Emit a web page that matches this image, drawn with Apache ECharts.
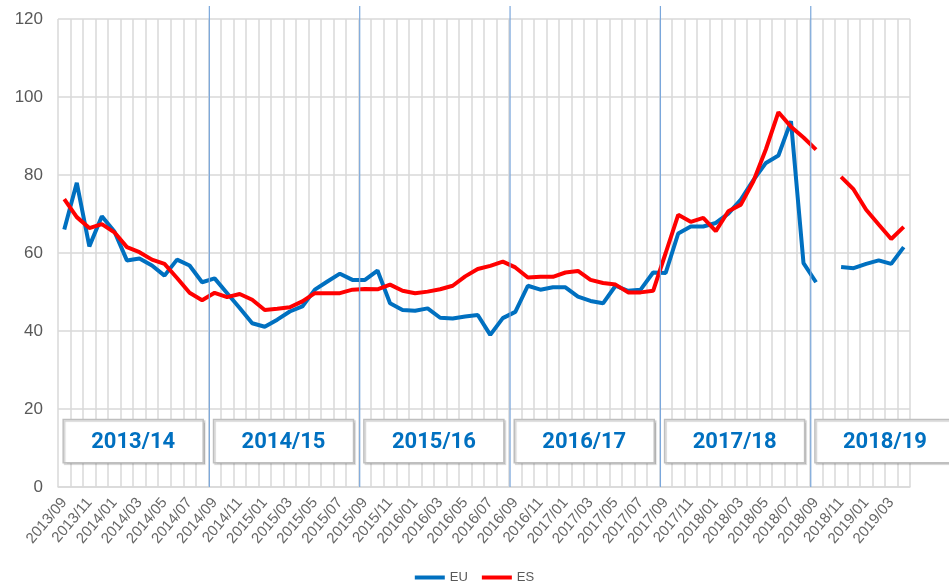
<!DOCTYPE html>
<html>
<head>
<meta charset="utf-8">
<script src="https://cdn.jsdelivr.net/npm/echarts@6/dist/echarts.min.js"></script>
<style>
  html, body { margin: 0; padding: 0; background: #fff; }
  #main { width: 949px; height: 583px; }
</style>
</head>
<body>
<div id="main"></div>
<script>
// months 2013/09 .. 2019/04
var months = [
  '2013/09','2013/10','2013/11','2013/12',
  '2014/01','2014/02','2014/03','2014/04','2014/05','2014/06','2014/07','2014/08','2014/09','2014/10','2014/11','2014/12',
  '2015/01','2015/02','2015/03','2015/04','2015/05','2015/06','2015/07','2015/08','2015/09','2015/10','2015/11','2015/12',
  '2016/01','2016/02','2016/03','2016/04','2016/05','2016/06','2016/07','2016/08','2016/09','2016/10','2016/11','2016/12',
  '2017/01','2017/02','2017/03','2017/04','2017/05','2017/06','2017/07','2017/08','2017/09','2017/10','2017/11','2017/12',
  '2018/01','2018/02','2018/03','2018/04','2018/05','2018/06','2018/07','2018/08','2018/09','2018/10','2018/11','2018/12',
  '2019/01','2019/02','2019/03','2019/04'
];

var euValues = [
  66.0, 78.0, 61.7, 69.4, 65.5, 58.1, 58.6, 56.8, 54.2, 58.3, 56.8, 52.5,
  53.5, 49.7, 45.9, 42.0, 41.1, 42.9, 45.0, 46.3, 50.6, 52.7, 54.7, 53.1,
  53.1, 55.5, 47.1, 45.4, 45.2, 45.8, 43.4, 43.2, 43.7, 44.1, 39.0, 43.3,
  44.9, 51.6, 50.6, 51.2, 51.2, 48.8, 47.7, 47.1, 51.6, 50.3, 50.6, 55.0,
  54.9, 65.0, 66.8, 66.8, 67.7, 70.1, 73.7, 78.7, 83.1, 85.0, 93.8, 57.4,
  52.5, null, 56.4, 56.1, 57.2, 58.1, 57.2, 61.5
];

var esValues = [
  73.8, 69.2, 66.4, 67.4, 65.3, 61.5, 60.2, 58.3, 57.2, 53.6, 49.8, 47.9,
  49.8, 48.7, 49.5, 48.0, 45.4, 45.7, 46.1, 47.6, 49.7, 49.7, 49.7, 50.6,
  50.8, 50.7, 51.9, 50.3, 49.7, 50.1, 50.7, 51.6, 54.0, 55.9, 56.7, 57.8,
  56.3, 53.7, 53.9, 53.9, 55.0, 55.4, 53.1, 52.3, 51.9, 49.9, 49.9, 50.3,
  60.0, 69.8, 68.0, 69.0, 65.6, 70.7, 72.4, 78.4, 86.6, 96.1, 92.4, 89.6,
  86.5, null, 79.5, 76.3, 71.1, 67.3, 63.6, 66.7
];

// marketing years, each starts in september
var seasons = ['2013/14', '2014/15', '2015/16', '2016/17', '2017/18', '2018/19'];
var seasonStart = [0, 12, 24, 36, 48, 60];

var myChart = echarts.init(document.getElementById('main'));

var gridColor = '#d9d9d9';

var option = {
  animation: false,
  textStyle: { fontFamily: 'Liberation Sans' },
  grid: { left: 58, right: 39, top: 19, bottom: 96, containLabel: false },
  legend: {
    top: 566,
    left: 'center',
    icon: 'rect',
    itemWidth: 30,
    itemHeight: 4,
    itemGap: 14,
    textStyle: { color: '#595959', fontSize: 13 },
    data: ['EU', 'ES']
  },
  xAxis: {
    type: 'category',
    data: months,
    boundaryGap: true,
    axisLine: { lineStyle: { color: gridColor, width: 1.5 } },
    axisTick: { show: false },
    splitLine: { show: true, interval: 0, lineStyle: { color: gridColor, width: 1.5 } },
    axisLabel: {
      interval: 1,
      rotate: 50,
      margin: 13,
      color: '#666666',
      fontSize: 15
    }
  },
  yAxis: {
    type: 'value',
    min: 0,
    max: 120,
    interval: 20,
    axisLine: { show: false },
    axisTick: { show: false },
    splitLine: { lineStyle: { color: gridColor, width: 1.5 } },
    axisLabel: { color: '#595959', fontSize: 17, margin: 15 }
  },
  series: [
    {
      name: 'EU',
      type: 'line',
      data: euValues,
      symbol: 'none',
      connectNulls: false,
      color: '#0070c0',
      lineStyle: { width: 4, color: '#0070c0' },
      z: 3
    },
    {
      name: 'ES',
      type: 'line',
      data: esValues,
      symbol: 'none',
      connectNulls: false,
      color: '#ff0000',
      lineStyle: { width: 4, color: '#ff0000' },
      z: 4
    }
  ]
};

myChart.setOption(option);

// season separators and labels, placed through the axes
function xAt(idx) {
  return myChart.convertToPixel({ xAxisIndex: 0 }, idx);
}
function boundary(k) {
  // left edge of category k
  var step = xAt(1) - xAt(0);
  return xAt(k) - step / 2;
}
var yBottom = myChart.convertToPixel({ yAxisIndex: 0 }, 0);
var yTop = myChart.convertToPixel({ yAxisIndex: 0 }, 120);
var boxTop = myChart.convertToPixel({ yAxisIndex: 0 }, 17.3);
var boxBottom = myChart.convertToPixel({ yAxisIndex: 0 }, 6.2);

var graphics = [];
seasonStart.forEach(function (s, i) {
  if (i > 0) {
    var bx = boundary(s) + 1;
    graphics.push({
      type: 'line',
      z: 5,
      shape: { x1: bx, y1: yTop - 13, x2: bx, y2: yBottom },
      style: { stroke: '#7aa7dc', lineWidth: 1.2 }
    });
  }
  var cx = boundary(s + 6);
  var w = 140;
  graphics.push({
    type: 'rect',
    z: 6,
    shape: { x: cx - w / 2, y: boxTop, width: w, height: boxBottom - boxTop },
    style: {
      fill: '#ffffff',
      stroke: '#bfbfbf',
      lineWidth: 1.5,
      shadowColor: 'rgba(0,0,0,0.18)',
      shadowBlur: 1,
      shadowOffsetX: 1.5,
      shadowOffsetY: 1.5
    }
  });
  graphics.push({
    type: 'text',
    z: 7,
    x: cx,
    y: (boxTop + boxBottom) / 2 + 1,
    style: {
      text: seasons[i],
      fill: '#0070c0',
      font: 'bold 22px Roboto',
      align: 'center',
      verticalAlign: 'middle'
    }
  });
});

myChart.setOption({ graphic: graphics });
</script>
</body>
</html>
